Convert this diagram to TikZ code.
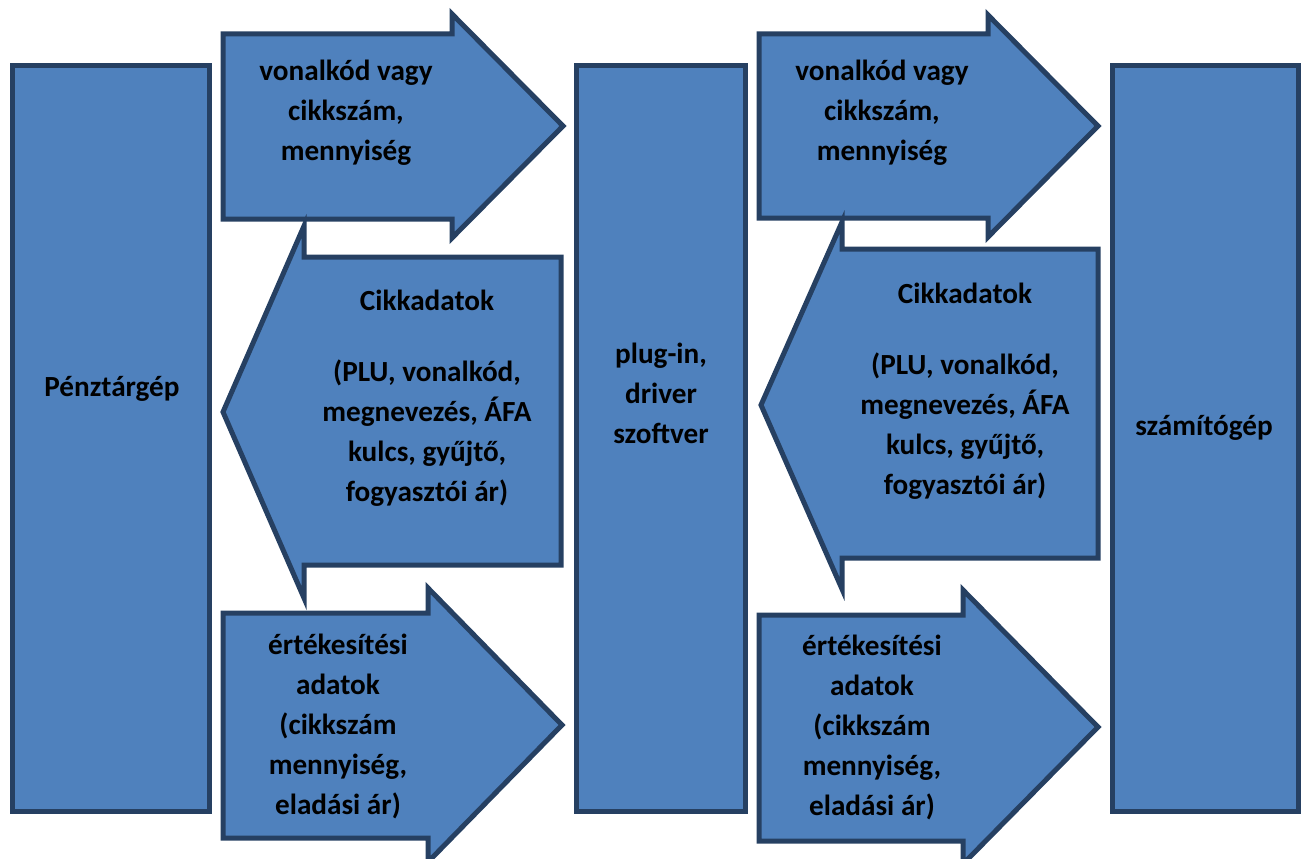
\documentclass[tikz,border=0pt]{standalone}
\usepackage{fontspec}
\setmainfont{Carlito}
\usepackage{xcolor}
\usetikzlibrary{positioning}
\definecolor{kek}{HTML}{4F81BD}
\definecolor{keret}{HTML}{264062}

\begin{document}
\begin{tikzpicture}[x=1pt, y=-1pt,
    doboz/.style={draw=keret, fill=kek, line width=5pt, inner sep=0pt},
    nyil/.style={draw=keret, fill=kek, line width=5pt},
    felirat/.style={align=center, inner sep=0pt,
        font=\fontsize{29.2}{40}\selectfont\bfseries}]
    \useasboundingbox (0,0) rectangle (1302,859);

    % the three blocks
    \node[doboz, minimum width=197, minimum height=745] (penztar) at (111,438.5) {};
    \node[doboz, minimum width=169, minimum height=745] (plugin) at (660.5,438.5) {};
    \node[doboz, minimum width=186, minimum height=745] (szamitogep) at (1205,438.5) {};

    % arrows, left half
    \draw[nyil] (223,34) -- (452,34) -- (452,14) -- (563,126) -- (452,238) -- (452,219) -- (223,219) -- cycle;
    \draw[nyil] (561,257) -- (304,257) -- (304,226) -- (223,412) -- (304,598) -- (304,565) -- (561,565) -- cycle;
    \draw[nyil] (223,613) -- (428,613) -- (428,588) -- (562,725) -- (428,862) -- (428,838) -- (223,838) -- cycle;

    % arrows, right half
    \draw[nyil] (759,34) -- (988,34) -- (988,15) -- (1098,126) -- (988,237) -- (988,218) -- (759,218) -- cycle;
    \draw[nyil] (1098,249) -- (842,249) -- (842,222) -- (761,405) -- (842,589) -- (842,558) -- (1098,558) -- cycle;
    \draw[nyil] (759,615) -- (963,615) -- (963,590) -- (1098,727) -- (963,864) -- (963,841) -- (759,841) -- cycle;

    % labels
    \node[felirat] (penztarTxt) at (112,389) {Pénztárgép};
    \node[felirat] (pluginTxt) at (661,393) {plug-in,\\driver\\szoftver};
    \node[felirat] (szamitogepTxt) at (1204,428) {számítógép};

    \node[felirat] (kod1) at (346,113) {vonalkód vagy\\cikkszám,\\mennyiség};
    \node[felirat] (cikk1) at (427,398) {Cikkadatok\\[31pt](PLU, vonalkód,\\megnevezés, ÁFA\\kulcs, gyűjtő,\\fogyasztói ár)};
    \node[felirat] (ert1) at (338,726) {értékesítési\\adatok\\(cikkszám\\mennyiség,\\eladási ár)};

    \node[felirat] (kod2) at (882,113) {vonalkód vagy\\cikkszám,\\mennyiség};
    \node[felirat] (cikk2) at (965,391) {Cikkadatok\\[31pt](PLU, vonalkód,\\megnevezés, ÁFA\\kulcs, gyűjtő,\\fogyasztói ár)};
    \node[felirat] (ert2) at (872,727) {értékesítési\\adatok\\(cikkszám\\mennyiség,\\eladási ár)};
\end{tikzpicture}
\end{document}
